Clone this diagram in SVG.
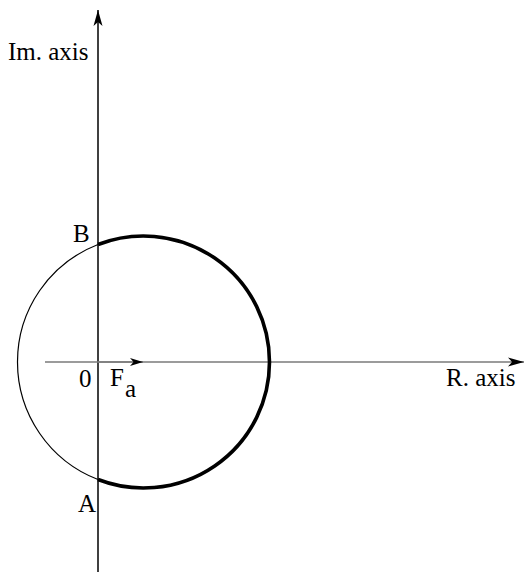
<svg xmlns="http://www.w3.org/2000/svg" width="526" height="574" viewBox="0 0 526 574">
<style>
text{font-family:"Liberation Serif","Times New Roman",serif;font-size:25px;fill:#000}
.axis{stroke:#000;stroke-width:1.5;fill:none}
.haxis{stroke:#7a7a7a;stroke-width:1.6;fill:none}
.thin{stroke:#000;stroke-width:1.2;fill:none}
.thick{stroke:#000;stroke-width:3.6;fill:none}
</style>
<defs>
<marker id="arr" markerUnits="userSpaceOnUse" markerWidth="18" markerHeight="10" refX="16" refY="5" orient="auto" overflow="visible">
<path d="M0,0.5 L16,5 L0,9.5 L4,5 Z" fill="#000"/>
</marker>
<marker id="arrS" markerUnits="userSpaceOnUse" markerWidth="14" markerHeight="8" refX="13" refY="4" orient="auto" overflow="visible">
<path d="M0,0 L13,4 L0,8 L3.5,4 Z" fill="#000"/>
</marker>
</defs>
<g id="connectors">
<line class="axis" x1="98" y1="572" x2="98" y2="10" marker-end="url(#arr)"/>
<line class="haxis" x1="45" y1="362" x2="524" y2="362" marker-end="url(#arr)"/>
<line class="haxis" x1="98" y1="362" x2="143" y2="362" marker-end="url(#arrS)"/>
</g>
<g id="circle">
<path class="thin" d="M98,244.5 A126,126 0 0 0 98,479.5"/>
<path class="thick" d="M98,244.5 A126,126 0 1 1 98,479.5"/>
</g>
<g id="labels">
<text x="8" y="60">Im. axis</text>
<text x="73" y="242">B</text>
<text x="78" y="512">A</text>
<text x="79" y="387">0</text>
<text x="110" y="386">F</text>
<text x="125" y="397">a</text>
<text x="446" y="386">R. axis</text>
</g>
</svg>
